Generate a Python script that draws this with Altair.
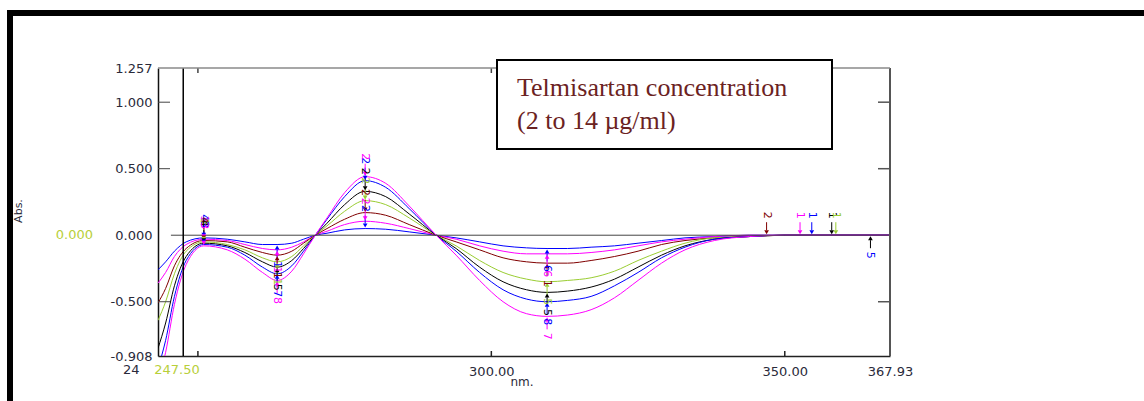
import altair as alt
import pandas as pd

# ---------------- data ----------------
WAVELENGTHS = [243.2, 244.5, 246, 248, 251, 255, 258, 261, 263.5, 266, 268,
               270, 272, 275, 278.5, 282, 286, 290.6,
               294, 298, 302, 306, 309.5, 313, 317, 321, 325, 329, 333, 338, 344, 350, 358, 367.93]

C2 = [-0.26, -0.20, -0.12, -0.05, -0.02, -0.03, -0.05, -0.07, -0.07, -0.06, -0.03,
      0.0, 0.015, 0.04, 0.05, 0.045, 0.025, 0.0,
      -0.02, -0.05, -0.08, -0.095, -0.10, -0.10, -0.09, -0.08, -0.06, -0.04, -0.02, -0.01, 0.0, 0.0, 0.0, 0.0]
C4 = [-0.36, -0.28, -0.16, -0.07, -0.03, -0.04, -0.07, -0.10, -0.11, -0.09, -0.05,
      0.0, 0.03, 0.08, 0.105, 0.09, 0.05, 0.0,
      -0.03, -0.08, -0.12, -0.14, -0.14, -0.14, -0.13, -0.11, -0.08, -0.05, -0.03, -0.01, 0.0, 0.0, 0.0, 0.0]
C6 = [-0.51, -0.40, -0.23, -0.10, -0.04, -0.05, -0.09, -0.13, -0.15, -0.12, -0.06,
      0.0, 0.05, 0.12, 0.17, 0.15, 0.08, 0.0,
      -0.05, -0.11, -0.17, -0.20, -0.21, -0.21, -0.19, -0.16, -0.12, -0.07, -0.04, -0.02, -0.01, 0.0, 0.0, 0.0]
C8 = [-0.64, -0.50, -0.29, -0.12, -0.05, -0.07, -0.11, -0.17, -0.20, -0.16, -0.08,
      0.0, 0.07, 0.18, 0.26, 0.23, 0.13, 0.0,
      -0.08, -0.19, -0.28, -0.33, -0.35, -0.34, -0.32, -0.27, -0.19, -0.12, -0.06, -0.02, -0.01, 0.0, 0.0, 0.0]
C10 = [-0.85, -0.66, -0.38, -0.16, -0.06, -0.08, -0.13, -0.20, -0.24, -0.19, -0.10,
       0.0, 0.09, 0.23, 0.33, 0.29, 0.16, 0.0,
       -0.10, -0.24, -0.35, -0.41, -0.43, -0.42, -0.39, -0.33, -0.24, -0.15, -0.08, -0.03, -0.01, 0.0, 0.0, 0.0]
C12 = [-1.00, -0.79, -0.46, -0.19, -0.07, -0.09, -0.15, -0.24, -0.29, -0.23, -0.12,
       0.0, 0.12, 0.29, 0.41, 0.36, 0.20, 0.0,
       -0.12, -0.28, -0.41, -0.48, -0.50, -0.49, -0.46, -0.38, -0.28, -0.17, -0.09, -0.03, -0.01, 0.0, 0.0, 0.0]
C14 = [-1.10, -0.88, -0.52, -0.22, -0.08, -0.11, -0.18, -0.28, -0.34, -0.27, -0.14,
       0.0, 0.13, 0.32, 0.44, 0.39, 0.22, 0.0,
       -0.15, -0.34, -0.50, -0.59, -0.61, -0.60, -0.56, -0.47, -0.34, -0.21, -0.11, -0.04, -0.01, 0.0, 0.0, 0.0]

SERIES_NAMES = ["2", "4", "6", "8", "10", "12", "14"]
SERIES_VALUES = [C2, C4, C6, C8, C10, C12, C14]
SERIES_COLORS = ["#0000ff", "#ff00ff", "#800000", "#9acd32", "#000000", "#0000ff", "#ff00ff"]

# peak-pick arrows on each curve
PEAK_WL = [251, 263.5, 278.5, 309.5]
PEAK_DIR = ["down", "up", "down", "up"]
PEAK_LABELS = [
    ["4", "3", "4", "3", "4", "3", "3"],
    ["1", "1", "1", "1", "5", "7", "8"],
    ["2", "2", "2", "2", "2", "2", "2"],
    ["6", "6", "1", "5", "5", "8", "7"],
]
# arrows on the baseline at the right
EXTRA_WL = [346.9, 352.6, 354.6, 358.0, 358.7, 364.6]
EXTRA_COLOR = ["#800000", "#ff00ff", "#0000ff", "#000000", "#9acd32", "#000000"]
EXTRA_DIR = ["down", "down", "down", "down", "down", "up"]
EXTRA_LABEL = ["2", "1", "1", "1", "1", "5"]
EXTRA_LABEL_COLOR = ["#800000", "#ff00ff", "#0000ff", "#000000", "#9acd32", "#0000ff"]

X_DOMAIN = [243.2, 367.93]
Y_DOMAIN = [-0.908, 1.257]
X_LABEL_VALUES = [300, 350, 367.93]
Y_LABEL_VALUES = [1.257, 1.0, 0.5, 0.0, -0.5, -0.908]
Y_INNER_TICKS = [1.0, 0.5, -0.5]
X_INNER_TICKS = [250, 300, 350]
CURSOR_WL = 247.5
ZERO_LINE = [245.4, 367.93]

# ---------------- layout ----------------
W, H = 732, 288
LABEL_FONT = "DejaVu Sans"
LABEL_COLOR = "#2a2a3a"
YG = "#b8cf3a"

rows = []
for name, color, vals in zip(SERIES_NAMES, SERIES_COLORS, SERIES_VALUES):
    for w, v in zip(WAVELENGTHS, vals):
        rows.append({"series": name, "color": color, "wl": w, "abs": v})
df = pd.DataFrame(rows)

mk = []
for i, pw in enumerate(PEAK_WL):
    idx = WAVELENGTHS.index(pw)
    for j, vals in enumerate(SERIES_VALUES):
        mk.append({"wl": pw, "abs": vals[idx], "color": SERIES_COLORS[j],
                   "dir": PEAK_DIR[i], "label": PEAK_LABELS[i][j], "lcolor": SERIES_COLORS[j]})
for w, c, d, l, lc in zip(EXTRA_WL, EXTRA_COLOR, EXTRA_DIR, EXTRA_LABEL, EXTRA_LABEL_COLOR):
    mk.append({"wl": w, "abs": 0.0, "color": c, "dir": d, "label": l, "lcolor": lc})
mkdf = pd.DataFrame(mk)

xs = alt.Scale(domain=X_DOMAIN, nice=False, zero=False)
ys = alt.Scale(domain=Y_DOMAIN, nice=False, zero=False)

xaxis = alt.Axis(values=X_LABEL_VALUES, format=".2f", title=None, grid=False, ticks=False,
                 labelFont=LABEL_FONT, labelFontSize=13, labelColor=LABEL_COLOR, labelPadding=9,
                 domainColor="#222", domainWidth=1.5, labelOverlap=False, labelFlush=False)
yaxis = alt.Axis(values=Y_LABEL_VALUES, title=None, grid=False, ticks=False,
                 labelExpr="replace(format(datum.value, '.3f'), '\u2212', '-')",
                 labelFont=LABEL_FONT, labelFontSize=13, labelColor=LABEL_COLOR, labelPadding=6,
                 domainColor="#111", domainWidth=1.5, labelOverlap=False, labelFlush=False)

X = lambda f="wl": alt.X(f"{f}:Q", scale=xs, axis=xaxis, title=None)
Y = lambda f="abs": alt.Y(f"{f}:Q", scale=ys, axis=yaxis, title=None)

lines = alt.Chart(df).mark_line(strokeWidth=1, interpolate="monotone", clip=True).encode(
    x=X("wl"),
    y=Y("abs"),
    color=alt.Color("color:N", scale=None),
    detail="series:N",
)

zero_line = alt.Chart(pd.DataFrame({"a": [ZERO_LINE[0]], "b": [ZERO_LINE[1]], "v": [0.0]})).mark_rule(
    color="#444", strokeWidth=1).encode(x=X("a"), x2="b:Q", y=Y("v"))

cursor = alt.Chart(pd.DataFrame({"c": [CURSOR_WL]})).mark_rule(color="#000", strokeWidth=1.5).encode(
    x=X("c"), y=alt.value(0), y2=alt.value(H))

yt = pd.DataFrame({"v": Y_INNER_TICKS})
left_ticks = alt.Chart(yt).mark_rule(color="#444", strokeWidth=1).encode(
    y=Y("v"), x=alt.value(0), x2=alt.value(12))
right_ticks = alt.Chart(yt).mark_rule(color="#555", strokeWidth=1.5).encode(
    y=Y("v"), x=alt.value(W - 12), x2=alt.value(W))
xt = pd.DataFrame({"v": X_INNER_TICKS})
bottom_ticks = alt.Chart(xt).mark_rule(color="#222", strokeWidth=1.5).encode(
    x=X("v"), y=alt.value(H - 5), y2=alt.value(H))
top_ticks = alt.Chart(xt).mark_rule(color="#444", strokeWidth=1.5).encode(
    x=X("v"), y=alt.value(0), y2=alt.value(5))

frame_top = alt.Chart(pd.DataFrame({"k": [0]})).mark_rule(color="#8a8a8a", strokeWidth=1.5).encode(
    x=alt.value(0), x2=alt.value(W), y=alt.value(0))
frame_right = alt.Chart(pd.DataFrame({"k": [0]})).mark_rule(color="#555", strokeWidth=2).encode(
    x=alt.value(W), y=alt.value(0), y2=alt.value(H))

# outer black border of the figure
outer_top = alt.Chart(pd.DataFrame({"k": [0]})).mark_rule(color="#000", strokeWidth=6).encode(
    x=alt.value(-151), x2=alt.value(1144 - 158), y=alt.value(-55))
outer_left = alt.Chart(pd.DataFrame({"k": [0]})).mark_rule(color="#000", strokeWidth=6).encode(
    x=alt.value(-148), y=alt.value(-58), y2=alt.value(401 - 68))

# peak markers
mbase = alt.Chart(mkdf)
down = mbase.transform_filter(alt.datum.dir == "down")
up = mbase.transform_filter(alt.datum.dir == "up")
col = alt.Color("color:N", scale=None)
lcol = alt.Color("lcolor:N", scale=None)

tri_d = down.mark_point(shape="triangle-down", filled=True, size=22, yOffset=-3, opacity=1).encode(
    x=X(), y=Y(), color=col)
sh_d = down.mark_rule(yOffset=-13, y2Offset=-5, strokeWidth=1).encode(x=X(), y=Y(), y2="abs:Q", color=col)
lb_d = down.mark_text(angle=90, fontSize=11, font=LABEL_FONT, yOffset=-20, align="center",
                      baseline="middle").encode(x=X(), y=Y(), text="label:N", color=lcol)
tri_u = up.mark_point(shape="triangle-up", filled=True, size=22, yOffset=3, opacity=1).encode(
    x=X(), y=Y(), color=col)
sh_u = up.mark_rule(yOffset=5, y2Offset=13, strokeWidth=1).encode(x=X(), y=Y(), y2="abs:Q", color=col)
lb_u = up.mark_text(angle=90, fontSize=11, font=LABEL_FONT, yOffset=20, align="center",
                    baseline="middle").encode(x=X(), y=Y(), text="label:N", color=lcol)


def txt(t, x, y, color=LABEL_COLOR, size=13, align="center", angle=0, font=LABEL_FONT, baseline="middle"):
    return alt.Chart(pd.DataFrame({"t": [t]})).mark_text(
        font=font, fontSize=size, color=color, align=align, baseline=baseline, angle=angle
    ).encode(text="t:N", x=alt.value(x), y=alt.value(y))


zero_yg = alt.Chart(pd.DataFrame({"t": ["0.000"], "v": [0.0]})).mark_text(
    font=LABEL_FONT, fontSize=13, color=YG, align="right", baseline="middle").encode(
    text="t:N", x=alt.value(93 - 158), y=Y("v"))
lab_24 = txt("24", 123 - 158, 370 - 68, align="left")
lab_cursor = txt("247.50", 177 - 158, 370 - 68, color=YG)
lab_nm = txt("nm.", 522 - 158, 382 - 68, size=12)
lab_abs = txt("Abs.", 19 - 158, 211 - 68, size=11, angle=270)

box = alt.Chart(pd.DataFrame({"k": [0]})).mark_rect(fill="white", stroke="black", strokeWidth=2).encode(
    x=alt.value(497 - 158), x2=alt.value(832 - 158), y=alt.value(60 - 68), y2=alt.value(149 - 68))
box_l1 = txt("Telmisartan concentration", 517 - 158, 96 - 68, color="#6b2222", size=26,
             align="left", font="Liberation Serif", baseline="alphabetic")
box_l2 = txt("(2 to 14 µg/ml)", 517 - 158, 129 - 68, color="#6b2222", size=26,
             align="left", font="Liberation Serif", baseline="alphabetic")

chart = alt.layer(
    lines, zero_line, cursor, left_ticks, right_ticks, bottom_ticks, top_ticks, frame_right,
    sh_d, tri_d, lb_d, sh_u, tri_u, lb_u,
    frame_top, outer_top, outer_left,
    zero_yg, lab_24, lab_cursor, lab_nm, lab_abs,
    box, box_l1, box_l2,
).properties(
    width=W, height=H,
    autosize=alt.AutoSizeParams(type="none"),
    padding={"left": 158, "top": 68, "right": 1144 - 158 - W, "bottom": 401 - 68 - H},
    background="white",
).configure_view(stroke=None)

chart.save("out.html", embed_options={"renderer": "svg", "actions": False})
